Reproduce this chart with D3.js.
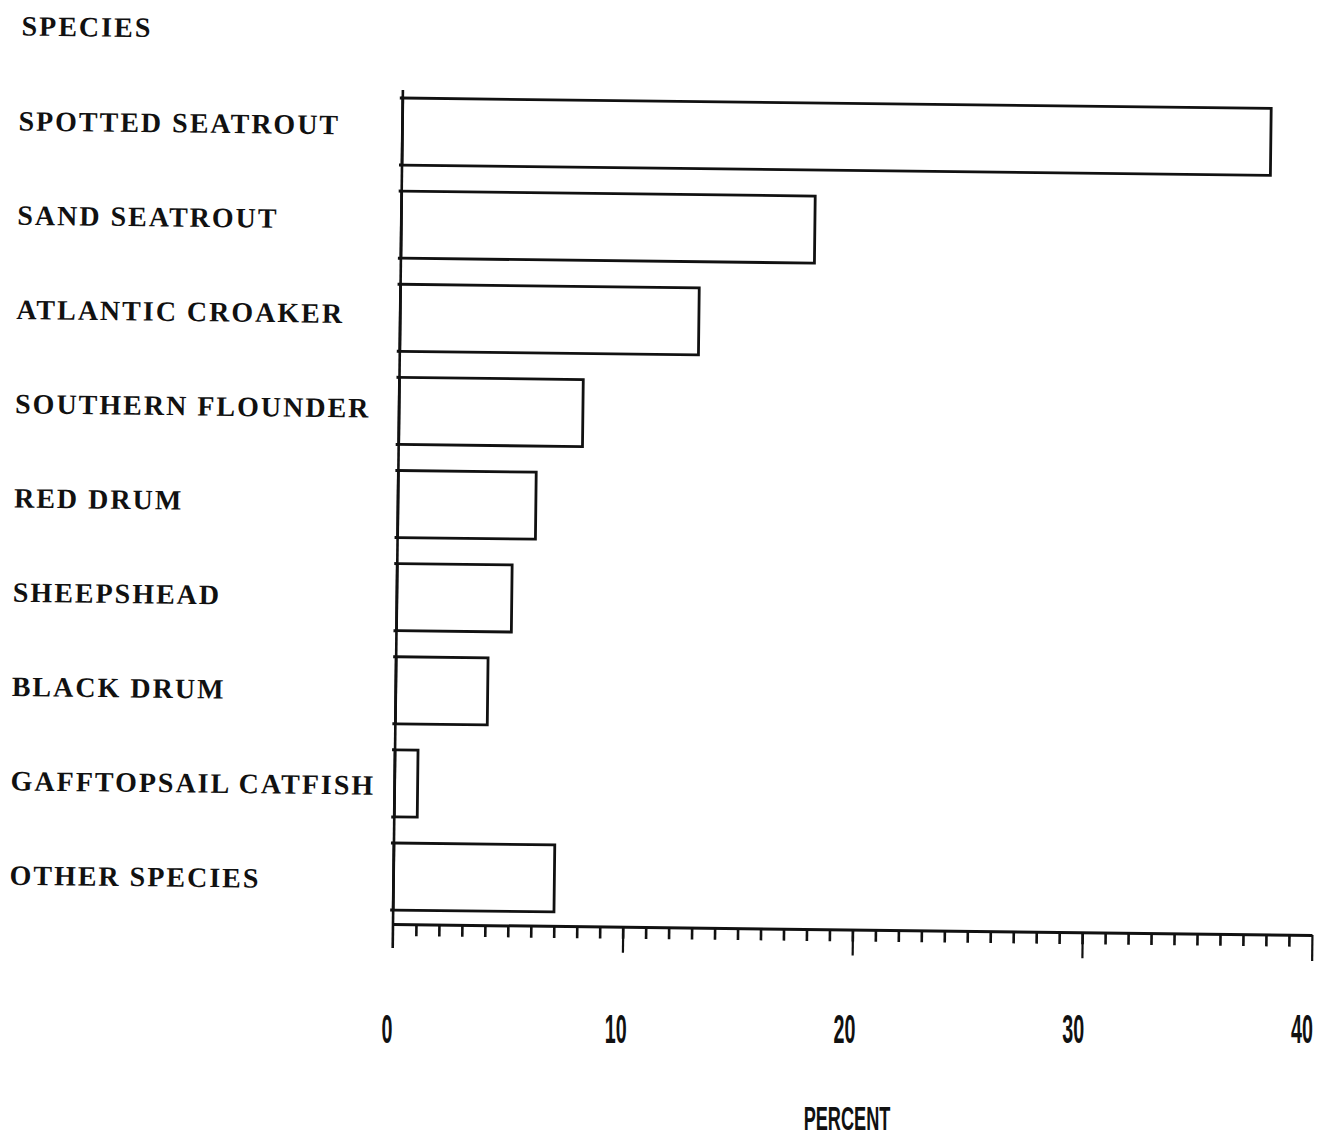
<!DOCTYPE html>
<html lang="en">
<head>
  <meta charset="utf-8">
  <title>Species percent</title>
  <script src="https://d3js.org/d3.v7.min.js"></script>
  <style>
    body { margin: 0; background: #fff; }
    .cat { font-family: "Liberation Serif", "Times New Roman", serif; font-weight: bold; font-size: 28px; letter-spacing: 2px; fill: #111; }
    .num { font-family: "Liberation Sans", Arial, sans-serif; font-weight: bold; fill: #111; }
  </style>
</head>
<body>
<svg width="1319" height="1139"></svg>
<script>
  var species = ["SPOTTED SEATROUT", "SAND SEATROUT", "ATLANTIC CROAKER", "SOUTHERN FLOUNDER",
                 "RED DRUM", "SHEEPSHEAD", "BLACK DRUM", "GAFFTOPSAIL CATFISH", "OTHER SPECIES"];
  var percents = [37.8, 18, 13, 8, 6, 5, 4, 1, 7];
  var tickLabels = [0, 10, 20, 30, 40];

  var svg = d3.select("svg"),
      origin = {x: 393, y: 924},
      width = 919;

  var x = d3.scaleLinear().domain([0, 40]).range([0, width]);
  var y = d3.scaleBand()
      .domain(species)
      .range([-840, 0])
      .paddingInner(0.28)
      .paddingOuter(0.15);

  // the scanned page is slightly tilted
  var plot = svg.append("g")
      .attr("transform", "translate(" + origin.x + "," + origin.y + ") rotate(0.68)");

  plot.append("text")
      .attr("class", "cat")
      .attr("x", -382)
      .attr("y", -884)
      .text("SPECIES");

  plot.selectAll(".label")
      .data(species)
    .enter().append("text")
      .attr("class", "cat label")
      .attr("x", -384)
      .attr("y", function(d, i) { return y(d) + 37 + i * 1.15; })
      .text(function(d) { return d; });

  plot.selectAll(".bar")
      .data(percents)
    .enter().append("rect")
      .attr("class", "bar")
      .attr("x", x(0))
      .attr("y", function(d, i) { return y(species[i]); })
      .attr("width", function(d) { return x(d) - x(0); })
      .attr("height", y.bandwidth())
      .attr("fill", "none")
      .attr("stroke", "#111")
      .attr("stroke-width", 2.8);

  // little knobs on the vertical axis at each bar edge
  var edges = [];
  species.forEach(function(s) { edges.push(y(s)); edges.push(y(s) + y.bandwidth()); });
  plot.selectAll(".knob")
      .data(edges)
    .enter().append("line")
      .attr("x1", x(0) - 3)
      .attr("x2", x(0))
      .attr("y1", function(d) { return d; })
      .attr("y2", function(d) { return d; })
      .attr("stroke", "#111")
      .attr("stroke-width", 3);

  plot.append("line")
      .attr("x1", x(0)).attr("x2", x(0))
      .attr("y1", y.range()[0] + 6).attr("y2", 24)
      .attr("stroke", "#111")
      .attr("stroke-width", 2.6);

  var minorAxis = d3.axisBottom(x)
      .tickValues(d3.range(1, 40))
      .tickSize(12)
      .tickSizeOuter(0)
      .tickFormat("");
  var majorAxis = d3.axisBottom(x)
      .tickValues(tickLabels.slice(1))
      .tickSize(26)
      .tickSizeOuter(0)
      .tickFormat("");

  var gx = plot.append("g").call(minorAxis);
  gx.select(".domain").attr("stroke", "#111").attr("stroke-width", 3);
  gx.selectAll(".tick line").attr("stroke", "#111").attr("stroke-width", 2.6);

  var gx2 = plot.append("g").call(majorAxis);
  gx2.select(".domain").remove();
  gx2.selectAll(".tick line").attr("stroke", "#111").attr("stroke-width", 2.2);

  // tick numbers and title sit level on the page
  var labels = svg.append("g").attr("transform", "translate(" + origin.x + ",0)");

  labels.selectAll(".tl")
      .data(tickLabels)
    .enter().append("text")
      .attr("class", "num tl")
      .attr("transform", function(d) { return "translate(" + (x(d) - 6 - d * 0.1) + ",1043) scale(0.48,1)"; })
      .attr("text-anchor", "middle")
      .style("font-size", "41px")
      .text(function(d) { return d; });

  svg.append("text")
      .attr("class", "num")
      .attr("transform", "translate(847,1130) scale(0.55,1)")
      .attr("text-anchor", "middle")
      .style("font-size", "33px")
      .text("PERCENT");
</script>
</body>
</html>
